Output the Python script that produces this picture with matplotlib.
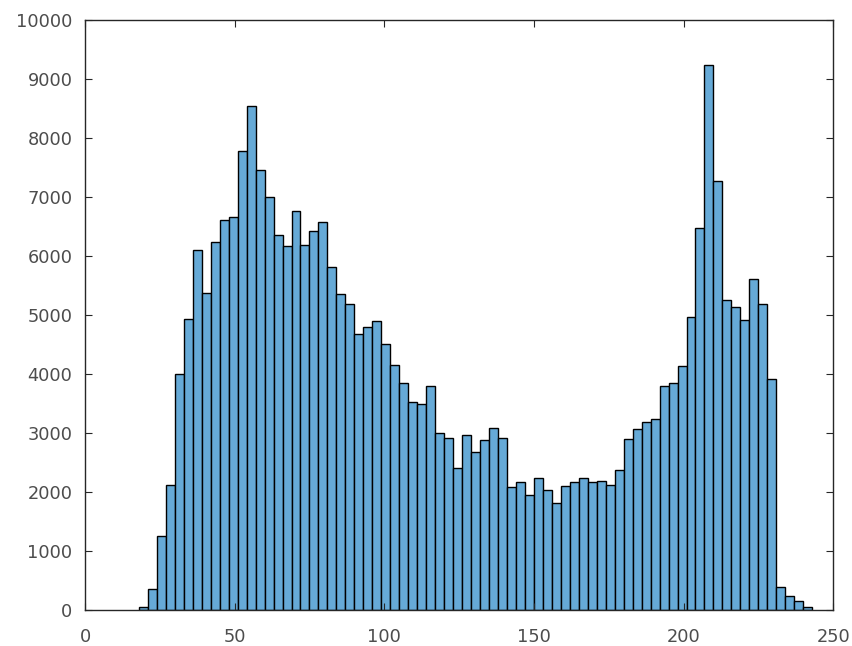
import matplotlib.pyplot as plt
import numpy as np

# Histogram counts (bin width 3, first bin starts at 18)
bin_start = 18
bin_width = 3
counts = [50, 360, 1260, 2110, 3990, 4930, 6100, 5370, 6230, 6610,
          6650, 7780, 8540, 7460, 7000, 6350, 6170, 6760, 6180, 6420,
          6580, 5810, 5350, 5180, 4670, 4790, 4900, 4500, 4150, 3850,
          3530, 3490, 3790, 3000, 2910, 2400, 2970, 2680, 2880, 3080,
          2910, 2080, 2170, 1940, 2230, 2040, 1810, 2100, 2160, 2240,
          2170, 2190, 2110, 2370, 2890, 3060, 3180, 3240, 3790, 3850,
          4140, 4960, 6470, 9230, 7260, 5250, 5130, 4910, 5600, 5180,
          3910, 390, 240, 150, 50]
x_ticks = [0, 50, 100, 150, 200, 250]
y_ticks = list(range(0, 10001, 1000))

edges = bin_start + bin_width * np.arange(len(counts))

plt.rcParams["font.family"] = ["DejaVu Sans"]

fig = plt.figure(figsize=(8.53, 6.46), dpi=100)
ax = fig.add_axes([0.0997, 0.0557, 0.877, 0.914])

face = (0.4, 0.668, 0.845)
ax.bar(edges, counts, width=bin_width, align="edge",
       color=face, edgecolor="black", linewidth=1.0)

ax.set_xlim(0, 250)
ax.set_ylim(0, 10000)
ax.set_xticks(x_ticks)
ax.set_yticks(y_ticks)

axis_col = (0.15, 0.15, 0.15)
for s in ax.spines.values():
    s.set_color(axis_col)
    s.set_linewidth(1.0)
ax.tick_params(direction="in", length=5, width=0.8, colors=axis_col,
               labelcolor=(0.3, 0.3, 0.3), labelsize=12.8,
               top=True, right=True)
ax.tick_params(axis="y", pad=9)
ax.tick_params(axis="x", pad=13)

fig.savefig("out.png", dpi=100)
